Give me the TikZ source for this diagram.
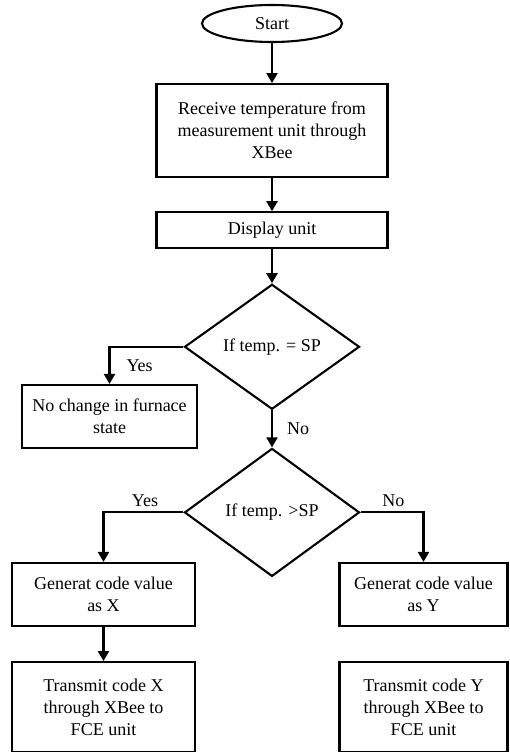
\documentclass[tikz,border=0pt]{standalone}
\usepackage{fontspec}
\setmainfont{Liberation Serif}
\usetikzlibrary{arrows.meta, shapes.geometric, positioning}

\begin{document}
\begin{tikzpicture}[x=1pt, y=-1pt, line width=2.1pt, boxstyle/.style = {rectangle, draw, align=center, inner sep=2pt}, termstyle/.style = {ellipse, draw, minimum width=140pt, minimum height=37pt}, decstyle/.style = {diamond, draw, aspect=1.4, inner sep=0pt, minimum width=175pt}, labelstyle/.style={draw=none, inner sep=2pt}, arr/.style={-{Triangle[length=10pt, width=11pt]}}]
  \tikzstyle{every node}=[font=\fontsize{18}{22}\selectfont]
  \useasboundingbox (0,0) rectangle (509,752);

  % Start
  \node[termstyle] (start) at (272,23.5) {Start};

  % receive and display
  \node[boxstyle, minimum width=231pt, minimum height=93pt, below=40pt of start] (receive) {Receive temperature from\\measurement unit through\\XBee};
  \node[boxstyle, minimum width=231pt, minimum height=36pt, below=33pt of receive] (display) {Display unit};

  % first test
  \node[decstyle, minimum height=125pt, below=34pt of display] (equal) {If temp. = SP};
  \node[boxstyle, minimum width=175pt, minimum height=63pt] (nochange) at (109.5,416.5) {No change in furnace\\state};

  % second test
  \node[decstyle, minimum height=128pt, below=37pt of equal] (greater) {If temp. >SP};

  % code X
  \node[boxstyle, minimum width=183pt, minimum height=63pt] (genx) at (103.5,594.5) {Generat code value\\as X};
  \node[boxstyle, minimum width=183pt, minimum height=90pt, below=34pt of genx] (sendx) {Transmit code X\\through XBee to\\FCE unit};

  % code Y
  \node[boxstyle, minimum width=168pt, minimum height=63pt] (geny) at (423.5,594.5) {Generat code value\\as Y};
  \node[boxstyle, minimum width=168pt, minimum height=90pt, below=34pt of geny] (sendy) {Transmit code Y\\through XBee to\\FCE unit};

  % arrows
  \draw [arr] (start) to (receive);
  \draw [arr] (receive) to (display);
  \draw [arr] (display) to (equal);
  \draw [arr] (equal.west) -| node[labelstyle, pos=0.75, right=14pt] (yes1) {Yes} (nochange.north);
  \draw [arr] (equal) to node[labelstyle, right=12pt] (no1) {No} (greater);
  \draw [arr] (greater.west) -| node[labelstyle, pos=0.24, above=3pt] (yes2) {Yes} (genx.north);
  \draw [arr] (greater.east) -| node[labelstyle, pos=0.26, above=3pt] (no2) {No} (geny.north);
  \draw [arr] (genx) to (sendx);

\end{tikzpicture}
\end{document}
